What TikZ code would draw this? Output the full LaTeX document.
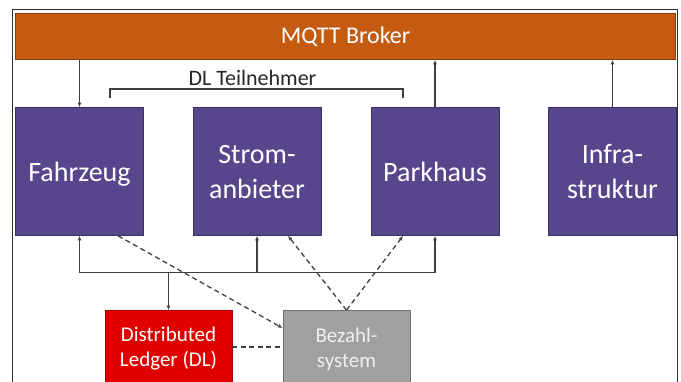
\documentclass[tikz,border=0pt]{standalone}
\usepackage{fontspec}
\setmainfont{Carlito}
\usetikzlibrary{arrows.meta,calc}

\definecolor{brokerorange}{HTML}{C55A11}
\definecolor{brokeredge}{HTML}{8A3F0C}
\definecolor{partpurple}{HTML}{56468C}
\definecolor{partedge}{HTML}{3C3066}
\definecolor{ledgerred}{HTML}{E00000}
\definecolor{ledgeredge}{HTML}{A00000}
\definecolor{paygray}{HTML}{A0A0A0}
\definecolor{payedge}{HTML}{707070}
\definecolor{linegray}{HTML}{404040}
\definecolor{framegray}{HTML}{303030}
\definecolor{labeldark}{HTML}{262626}

\begin{document}
\begin{tikzpicture}[x=1pt,y=-1pt,
  basebox/.style={draw, line width=0.8pt, inner sep=0pt, align=center},
  brokerbox/.style={basebox, fill=brokerorange, draw=brokeredge, text=white,
    minimum width=660pt, minimum height=46pt, font=\fontsize{24}{28}\selectfont},
  partbox/.style={basebox, fill=partpurple, draw=partedge, text=white,
    minimum width=128pt, minimum height=128pt, text depth=0pt,
    font=\fontsize{28}{35}\selectfont},
  lowbox/.style={basebox, minimum width=127pt, minimum height=77pt,
    font=\fontsize{21}{25}\selectfont},
  conn/.style={draw=linegray, line width=1.3pt},
  tip/.style={-{Latex[length=4.5pt,width=4pt]}},
  arr/.style={conn, tip},
  dashconn/.style={conn, dash pattern=on 5pt off 3.5pt}
]
\useasboundingbox (0,0) rectangle (681,381);
\clip (0,0) rectangle (681,381);

% outer frame
\draw[framegray, line width=1.2pt] (12.5,9.5) rectangle (677.5,400);

% broker bar
\node[brokerbox] (broker) at (345.5,36.5) {MQTT Broker};

% participants
\node[partbox] (fz)  at (79.5,171.5)  {Fahrzeug};
\node[partbox] (st)  at (257,171.5)   {Strom-\\anbieter};
\node[partbox] (pk)  at (435,171.5)   {Parkhaus};
\node[partbox] (inf) at (612.5,171.5) {Infra-\\struktur};

% ledger and payment
\node[lowbox, fill=ledgerred, draw=ledgeredge, text=white] (dl) at (168.5,349) {Distributed\\Ledger (DL)};
\node[lowbox, fill=paygray, draw=payedge, text=white!94!black] (bz) at (346.5,349) {Bezahl-\\system};

% DL participants bracket
\node[font=\fontsize{22}{26}\selectfont, text=labeldark, anchor=base, inner sep=0pt] (dltn) at (252.5,85) {DL Teilnehmer};
\coordinate (brL) at (110,98);
\coordinate (brR) at (403,98);
\draw[conn] (brL) -- ++(0,-9) -| (brR);

% broker links
\draw[arr] (broker.south -| fz.north) -- (fz.north);
\draw[arr] (pk.north) -- (broker.south -| pk.north);
\draw[arr] (inf.north) -- (broker.south -| inf.north);

% ledger bus
\coordinate (bus) at (0,272.5);
\draw[conn] (fz.south |- bus) -- (pk.south |- bus);
\draw[arr] (fz.south |- bus) -- (fz.south);
\draw[arr] (st.south |- bus) -- (st.south);
\draw[arr] (pk.south |- bus) -- (pk.south);
\draw[arr] (dl.north |- bus) -- (dl.north);

% payment links
\draw[dashconn, tip] ($(fz.south west)!0.8!(fz.south east)$) -- ($(bz.west)+(0,-21)$);
\draw[dashconn, tip] (bz.north) -- ($(st.south)+(31,0)$);
\draw[dashconn, tip] (bz.north) -- ($(pk.south)+(-32,0)$);
\draw[dashconn] ($(dl.east)+(0,-2)$) -- ($(bz.west)+(0,-2)$);
\end{tikzpicture}
\end{document}
